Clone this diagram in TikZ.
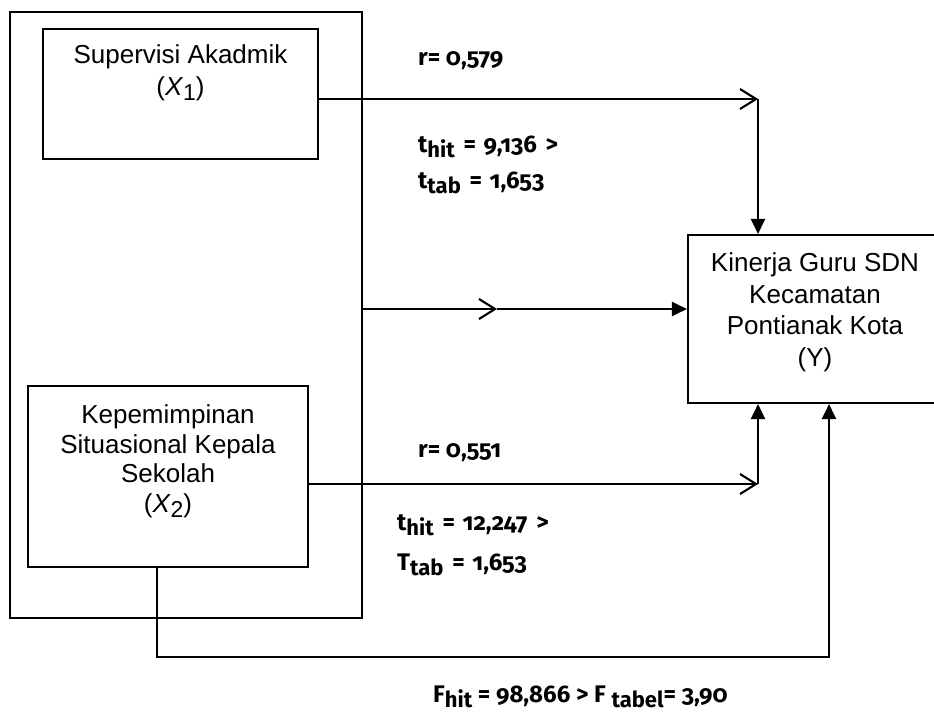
\documentclass[tikz,border=0pt]{standalone}
\usepackage{fontspec}
\setmainfont{Liberation Sans}
\newfontfamily\statfont[Numbers=OldStyle]{Fira Sans}
\usetikzlibrary{arrows.meta,positioning}
\newcommand{\lowsub}[1]{\raisebox{-5pt}{\fontsize{22}{22}\selectfont #1}}
\newcommand{\varsub}[1]{\raisebox{-5pt}{\fontsize{23}{23}\selectfont #1}}
\tikzset{
    varbox/.style={draw=black, line width=2.1pt, inner sep=0pt},
    boxtext/.style={font=\fontsize{26}{31.5}\selectfont, align=center, anchor=north, inner sep=0pt},
    stat/.style={font=\statfont\bfseries\fontsize{24}{24}\selectfont, anchor=base west, inner sep=0pt},
    flow/.style={line width=2.1pt},
    openhead/.style={-{Straight Barb[length=16pt,width=20pt,line width=2.1pt]}},
    fillhead/.style={-{Triangle[length=15pt,width=14pt]}},
}

\begin{document}
\begin{tikzpicture}[x=1pt, y=-1pt]
    \useasboundingbox (0,0) rectangle (934,715);
    \clip (0,0) rectangle (934,715);

    \node[varbox, minimum width=352pt, minimum height=606pt] (grp) at (186,315) {};
    \node[varbox, minimum width=275pt, minimum height=130pt] (x1) at (180.5,94) {};
    \node[varbox, minimum width=280pt, minimum height=181pt] (x2) at (168,476.5) {};
    \node[varbox, minimum width=254pt, minimum height=168pt] (ybox) at (815,319) {};

    \node[boxtext] (x1text) at ([yshift=-17pt]x1.north) {Supervisi Akadmik\\(\textit{X}\varsub{1})};
    \node[boxtext, font=\fontsize{26}{29.5}\selectfont] (x2text) at ([yshift=-20pt]x2.north)
      {Kepemimpinan\\Situasional Kepala\\Sekolah\\(\textit{X}\varsub{2})};
    \node[boxtext] (ytext) at ([yshift=-19pt]ybox.north)
      {Kinerja Guru SDN\\Kecamatan\\Pontianak Kota\\(Y)};

    \node[stat] (r1) at (418,65) {r= 0,579};
    \node[stat] (t1) at (418,152) {t\lowsub{hit}\hspace{3pt} = \hspace{2pt}9,136 \hspace{3pt}>};
    \node[stat] (tt1) at (418,188) {t\lowsub{tab}\hspace{3pt} = \hspace{2pt}1,653};
    \node[stat] (r2) at (418,457) {r= 0,551};
    \node[stat] (t2) at (397,530) {t\lowsub{hit}\hspace{3pt} = \hspace{2pt}12,247 \hspace{3pt}>};
    \node[stat] (tt2) at (397,570) {T\lowsub{tab}\hspace{3pt} = \hspace{2pt}1,653};
    \node[stat] (fh) at (433,702) {F\lowsub{hit} = 98,866 > F \lowsub{tabel}= 3,90};

    \coordinate (c1) at (758,99);
    \coordinate (c2) at (758,484);
    \coordinate (m0) at (grp.east |- 0,309);
    \coordinate (m1) at (497,309);
    \coordinate (b1) at (157,657);
    \coordinate (b2) at (829,657);

    \draw[flow, openhead] (x1.east |- c1) -- (c1);
    \draw[flow, fillhead] (c1) -- (c1 |- ybox.north);
    \draw[flow, openhead] (x2.east |- c2) -- (c2);
    \draw[flow, fillhead] (c2) -- (c2 |- ybox.south);
    \draw[flow, openhead] (m0) -- (m1);
    \draw[flow, fillhead] (m1) -- (m1 -| ybox.west);
    \draw[flow, fillhead] (x2.south -| b1) -- (b1) -- (b2) -- (b2 |- ybox.south);
\end{tikzpicture}
\end{document}
